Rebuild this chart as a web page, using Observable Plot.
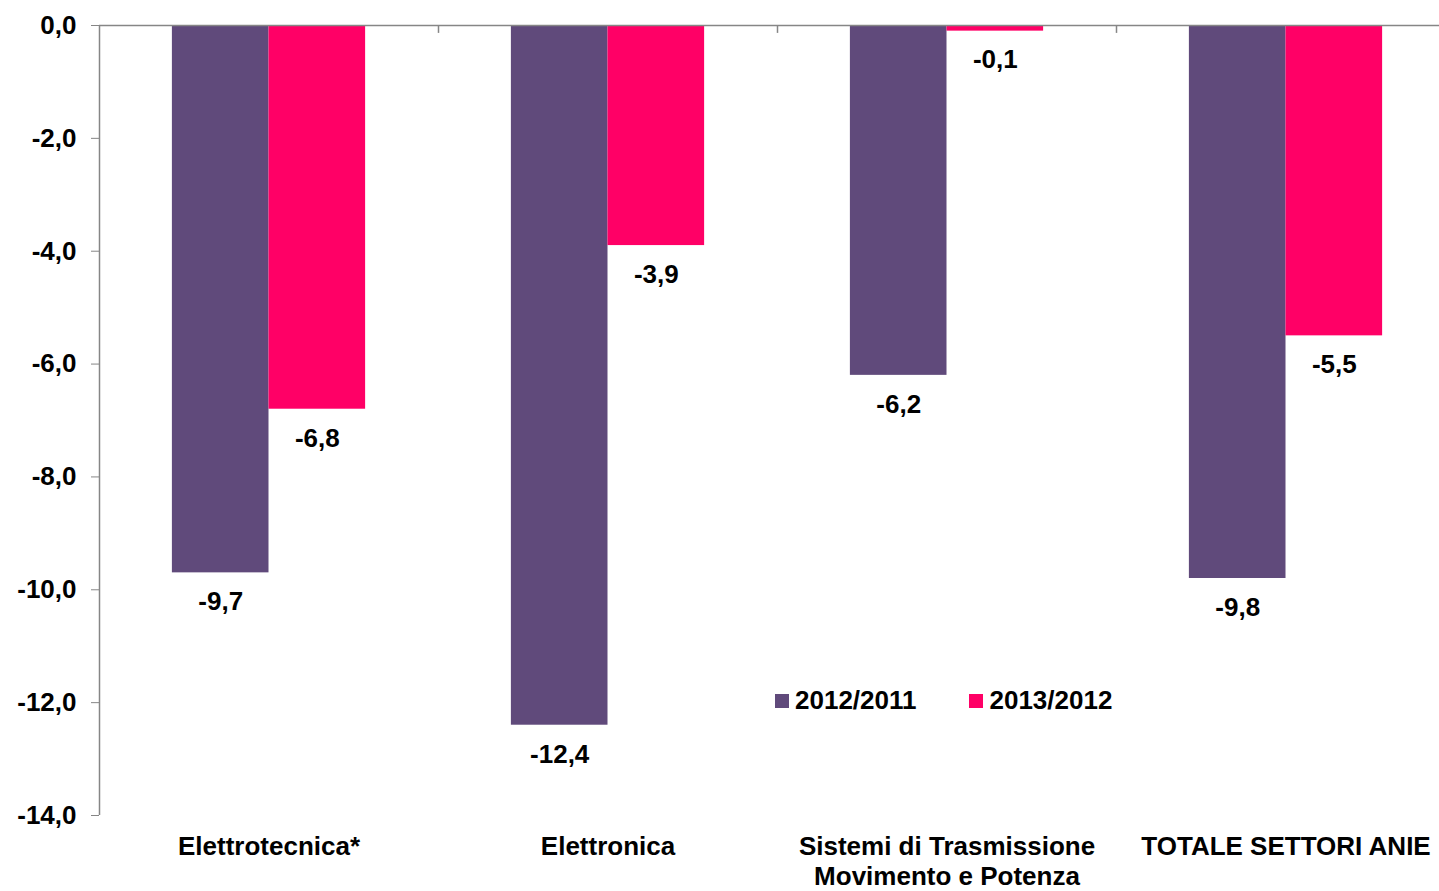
<!DOCTYPE html>
<html>
<head>
<meta charset="utf-8">
<script src="https://cdn.jsdelivr.net/npm/d3@7"></script>
<script src="https://cdn.jsdelivr.net/npm/@observablehq/plot@0.6"></script>
<style>
  html, body { margin: 0; padding: 0; background: #fff; }
  #wrap { position: relative; width: 1439px; height: 891px; overflow: hidden; font-family: "Liberation Sans", Arial, sans-serif; }
  #legend { position: absolute; left: 775px; top: 685px; display: flex; font-weight: bold; font-size: 26px; color: #000; }
  #legend .item { display: flex; align-items: center; }
  #legend .item + .item { margin-left: 53px; }
  #legend .sw { width: 14px; height: 14px; margin-right: 6px; }
</style>
</head>
<body>
<div id="wrap"></div>
<script>
const categories = ["Elettrotecnica*", "Elettronica", "Sistemi di Trasmissione\nMovimento e Potenza", "TOTALE SETTORI ANIE"];
const series = ["2012/2011", "2013/2012"];
const values2012 = [-9.7, -12.4, -6.2, -9.8];
const values2013 = [-6.8, -3.9, -0.1, -5.5];
const colors = ["#604A7B", "#FF0066"];
const yTicks = [0, -2, -4, -6, -8, -10, -12, -14];

const barW = 0.285; // fraction of a category slot
const data = [];
categories.forEach((c, i) => {
  data.push({cat: c, i, s: series[0], v: values2012[i], x1: i + 0.5 - barW, x2: i + 0.5});
  data.push({cat: c, i, s: series[1], v: values2013[i], x1: i + 0.5, x2: i + 0.5 + barW});
});
const fmt = d => d.toFixed(1).replace(".", ",");
const font = "Liberation Sans, Arial, sans-serif";

const chart = Plot.plot({
  width: 1439,
  height: 891,
  marginLeft: 99,
  marginRight: -16,
  marginTop: 25,
  marginBottom: 76,
  style: {fontFamily: font, background: "#fff"},
  x: {domain: [0, 4], range: [99, 1455], axis: null},
  y: {domain: [-14, 0], range: [815, 25], axis: null},
  color: {domain: series, range: colors},
  marks: [
    Plot.rectY(data, {x1: "x1", x2: "x2", y1: 0, y2: "v", fill: "s"}),
    Plot.ruleX([0], {y1: -14, y2: 0, stroke: "#868686", strokeWidth: 1.5}),
    Plot.ruleY([0], {x1: 0, x2: 4, stroke: "#868686", strokeWidth: 1.5}),
    Plot.ruleX([1, 2, 3], {y1: 0, y2: -0.14, stroke: "#868686", strokeWidth: 1.5}),
    Plot.axisY({ticks: yTicks, tickFormat: fmt, tickSize: 8, tickPadding: 15, stroke: "#868686", fill: "#000",
      fontSize: 26, fontWeight: "bold", anchor: "left", label: null}),
    Plot.text(data, {x: d => (d.x1 + d.x2) / 2, y: "v", text: d => fmt(d.v), dy: 29,
      fontSize: 26, fontWeight: "bold", fill: "#000", lineAnchor: "middle"}),
    Plot.text(categories, {x: (d, i) => i + 0.5, y: -14, text: d => d, dy: 18, lineAnchor: "top",
      fontSize: 26, fontWeight: "bold", fill: "#000", lineHeight: 1.15})
  ]
});
document.getElementById("wrap").appendChild(chart);

const legend = document.createElement("div");
legend.id = "legend";
series.forEach((s, k) => {
  const it = document.createElement("div");
  it.className = "item";
  const sw = document.createElement("span");
  sw.className = "sw";
  sw.style.background = colors[k];
  const t = document.createElement("span");
  t.textContent = s;
  it.appendChild(sw); it.appendChild(t);
  legend.appendChild(it);
});
document.getElementById("wrap").appendChild(legend);
</script>
</body>
</html>
